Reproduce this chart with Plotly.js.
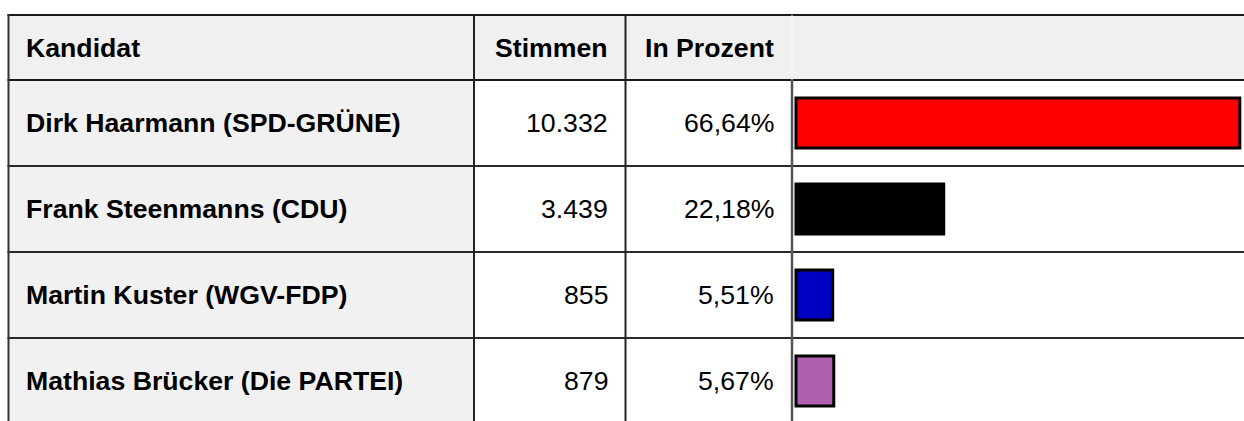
<!DOCTYPE html>
<html><head><meta charset="utf-8">
<script src="https://cdn.plot.ly/plotly-3.0.1.min.js"></script>
<style>html,body{margin:0;padding:0;background:#fff;}#chart{width:1244px;height:421px;}</style>
</head><body><div id="chart"></div>
<script>
const headers = ["Kandidat", "Stimmen", "In Prozent"];
const candidates = ["Dirk Haarmann (SPD-GRÜNE)", "Frank Steenmanns (CDU)", "Martin Kuster (WGV-FDP)", "Mathias Brücker (Die PARTEI)"];
const votes = [10332, 3439, 855, 879];
const percent = [66.64, 22.18, 5.51, 5.67];
const barColors = ["#ff0000", "#000000", "#0000c0", "#b060b0"];

function fmtInt(n){ return String(n).replace(/\B(?=(\d{3})+(?!\d))/g, "."); }
function fmtPct(p){ return p.toFixed(2).replace(".", ",") + "%"; }

const W = 1244, H = 421;
const X = px => px / W;
const Y = py => 1 - py / H;
const tableTop = 15, headerBottom = 80, rowH = 86;
const colB = [8.5, 474, 625.5, 792];
const zeroPx = 796, pxPerUnit = 6.66, barDomainStart = 792;
const FONT = "Liberation Sans, Arial, sans-serif";
const FS = 26.67;

const shapes = [];
// backgrounds
shapes.push({type:'rect', xref:'paper', yref:'paper', x0:X(colB[0]), x1:1, y0:Y(headerBottom), y1:Y(tableTop), fillcolor:'#f0f0f0', line:{width:0}, layer:'below'});
shapes.push({type:'rect', xref:'paper', yref:'paper', x0:X(colB[0]), x1:X(colB[1]), y0:0, y1:Y(headerBottom), fillcolor:'#f1f1f1', line:{width:0}, layer:'below'});
// horizontal lines
shapes.push({type:'line', xref:'paper', yref:'paper', x0:X(colB[0]-1), x1:1, y0:Y(tableTop), y1:Y(tableTop), line:{color:'#1a1a1a', width:2}, layer:'above'});
shapes.push({type:'line', xref:'paper', yref:'paper', x0:X(colB[0]-1), x1:1, y0:Y(headerBottom), y1:Y(headerBottom), line:{color:'#1a1a1a', width:2}, layer:'above'});
for (let i = 1; i < candidates.length; i++) {
  shapes.push({type:'line', xref:'paper', yref:'y', x0:X(colB[0]-1), x1:1, y0:i-0.5, y1:i-0.5, line:{color:'#2a2a2a', width:2}, layer:'above'});
}
// vertical lines
shapes.push({type:'line', xref:'paper', yref:'paper', x0:X(colB[0]), x1:X(colB[0]), y0:0, y1:Y(tableTop-1), line:{color:'#333', width:2}, layer:'above'});
shapes.push({type:'line', xref:'paper', yref:'paper', x0:X(colB[1]), x1:X(colB[1]), y0:0, y1:Y(tableTop-1), line:{color:'#222', width:2}, layer:'above'});
shapes.push({type:'line', xref:'paper', yref:'paper', x0:X(colB[2]), x1:X(colB[2]), y0:0, y1:Y(tableTop-1), line:{color:'#222', width:2}, layer:'above'});
shapes.push({type:'line', xref:'paper', yref:'paper', x0:X(colB[3]), x1:X(colB[3]), y0:0, y1:Y(headerBottom), line:{color:'#555', width:2.5}, layer:'above'});
shapes.push({type:'line', xref:'paper', yref:'paper', x0:X(colB[3]), x1:X(colB[3]), y0:Y(headerBottom), y1:Y(tableTop), line:{color:'#fcfcfc', width:1}, layer:'above'});

const annotations = [];
const hdrY = Y((tableTop + headerBottom) / 2);
const colText = [{x:26, anchor:'left'}, {x:607.5, anchor:'right'}, {x:774, anchor:'right'}];
headers.forEach((h, j) => {
  annotations.push({xref:'paper', yref:'paper', x:X(colText[j].x), y:hdrY, xanchor:colText[j].anchor, yanchor:'middle',
    text:h, showarrow:false, borderpad:0, borderwidth:0, font:{family:FONT, size:FS, color:'#000', weight:'bold'}});
});
candidates.forEach((c, i) => {
  annotations.push({xref:'paper', yref:'y', x:X(colText[0].x), y:c, xanchor:'left', yanchor:'middle', text:c, showarrow:false,
    borderpad:0, borderwidth:0, font:{family:FONT, size:FS, color:'#000', weight:'bold'}});
  annotations.push({xref:'paper', yref:'y', x:X(colText[1].x), y:c, xanchor:'right', yanchor:'middle', text:fmtInt(votes[i]), showarrow:false,
    borderpad:0, borderwidth:0, font:{family:FONT, size:FS, color:'#000'}});
  annotations.push({xref:'paper', yref:'y', x:X(colText[2].x), y:c, xanchor:'right', yanchor:'middle', text:fmtPct(percent[i]), showarrow:false,
    borderpad:0, borderwidth:0, font:{family:FONT, size:FS, color:'#000'}});
});

const trace = {
  type:'bar', orientation:'h', y:candidates, x:percent, width:0.58,
  marker:{color:barColors, line:{color:'#000', width:3}},
  hoverinfo:'skip', showlegend:false
};

const layout = {
  width:W, height:H, margin:{l:0, r:0, t:0, b:0, pad:0},
  paper_bgcolor:'#fff', plot_bgcolor:'rgba(0,0,0,0)',
  xaxis:{domain:[X(barDomainStart), 1], range:[(barDomainStart - zeroPx) / pxPerUnit, (W - zeroPx) / pxPerUnit],
    showgrid:false, zeroline:false, showline:false, showticklabels:false, ticks:'', fixedrange:true},
  yaxis:{type:'category', categoryorder:'array', categoryarray:candidates, domain:[0, Y(headerBottom)],
    range:[-0.5 + (H - headerBottom) / rowH, -0.5], showgrid:false, zeroline:false, showline:false, showticklabels:false, ticks:'', fixedrange:true},
  shapes:shapes, annotations:annotations, showlegend:false
};

Plotly.newPlot('chart', [trace], layout, {displayModeBar:false, staticPlot:true});
</script>
</body></html>
